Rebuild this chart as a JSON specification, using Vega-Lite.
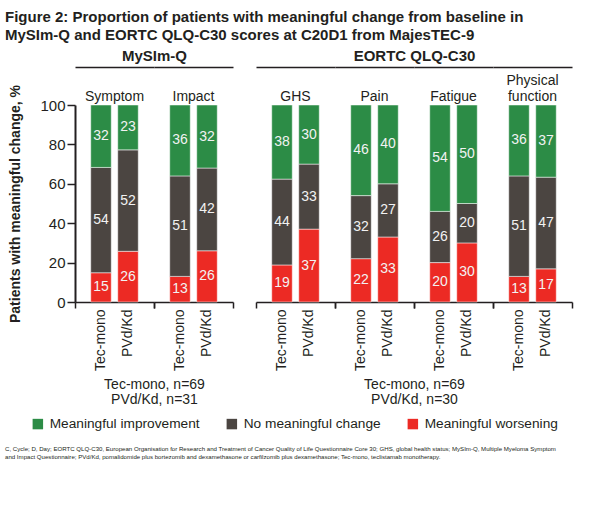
{
  "$schema": "https://vega.github.io/schema/vega-lite/v6.json",
  "padding": {"left": 5, "top": 10, "right": 5, "bottom": 5},
  "background": "white",
  "data": {
    "values": [
      {"group": "MySIm-Q", "measure": "Symptom", "treatment": "Tec-mono", "response": "Meaningful worsening", "pct": 15},
      {"group": "MySIm-Q", "measure": "Symptom", "treatment": "Tec-mono", "response": "No meaningful change", "pct": 54},
      {"group": "MySIm-Q", "measure": "Symptom", "treatment": "Tec-mono", "response": "Meaningful improvement", "pct": 32},
      {"group": "MySIm-Q", "measure": "Symptom", "treatment": "PVd/Kd", "response": "Meaningful worsening", "pct": 26},
      {"group": "MySIm-Q", "measure": "Symptom", "treatment": "PVd/Kd", "response": "No meaningful change", "pct": 52},
      {"group": "MySIm-Q", "measure": "Symptom", "treatment": "PVd/Kd", "response": "Meaningful improvement", "pct": 23},
      {"group": "MySIm-Q", "measure": "Impact", "treatment": "Tec-mono", "response": "Meaningful worsening", "pct": 13},
      {"group": "MySIm-Q", "measure": "Impact", "treatment": "Tec-mono", "response": "No meaningful change", "pct": 51},
      {"group": "MySIm-Q", "measure": "Impact", "treatment": "Tec-mono", "response": "Meaningful improvement", "pct": 36},
      {"group": "MySIm-Q", "measure": "Impact", "treatment": "PVd/Kd", "response": "Meaningful worsening", "pct": 26},
      {"group": "MySIm-Q", "measure": "Impact", "treatment": "PVd/Kd", "response": "No meaningful change", "pct": 42},
      {"group": "MySIm-Q", "measure": "Impact", "treatment": "PVd/Kd", "response": "Meaningful improvement", "pct": 32},
      {"group": "EORTC QLQ-C30", "measure": "GHS", "treatment": "Tec-mono", "response": "Meaningful worsening", "pct": 19},
      {"group": "EORTC QLQ-C30", "measure": "GHS", "treatment": "Tec-mono", "response": "No meaningful change", "pct": 44},
      {"group": "EORTC QLQ-C30", "measure": "GHS", "treatment": "Tec-mono", "response": "Meaningful improvement", "pct": 38},
      {"group": "EORTC QLQ-C30", "measure": "GHS", "treatment": "PVd/Kd", "response": "Meaningful worsening", "pct": 37},
      {"group": "EORTC QLQ-C30", "measure": "GHS", "treatment": "PVd/Kd", "response": "No meaningful change", "pct": 33},
      {"group": "EORTC QLQ-C30", "measure": "GHS", "treatment": "PVd/Kd", "response": "Meaningful improvement", "pct": 30},
      {"group": "EORTC QLQ-C30", "measure": "Pain", "treatment": "Tec-mono", "response": "Meaningful worsening", "pct": 22},
      {"group": "EORTC QLQ-C30", "measure": "Pain", "treatment": "Tec-mono", "response": "No meaningful change", "pct": 32},
      {"group": "EORTC QLQ-C30", "measure": "Pain", "treatment": "Tec-mono", "response": "Meaningful improvement", "pct": 46},
      {"group": "EORTC QLQ-C30", "measure": "Pain", "treatment": "PVd/Kd", "response": "Meaningful worsening", "pct": 33},
      {"group": "EORTC QLQ-C30", "measure": "Pain", "treatment": "PVd/Kd", "response": "No meaningful change", "pct": 27},
      {"group": "EORTC QLQ-C30", "measure": "Pain", "treatment": "PVd/Kd", "response": "Meaningful improvement", "pct": 40},
      {"group": "EORTC QLQ-C30", "measure": "Fatigue", "treatment": "Tec-mono", "response": "Meaningful worsening", "pct": 20},
      {"group": "EORTC QLQ-C30", "measure": "Fatigue", "treatment": "Tec-mono", "response": "No meaningful change", "pct": 26},
      {"group": "EORTC QLQ-C30", "measure": "Fatigue", "treatment": "Tec-mono", "response": "Meaningful improvement", "pct": 54},
      {"group": "EORTC QLQ-C30", "measure": "Fatigue", "treatment": "PVd/Kd", "response": "Meaningful worsening", "pct": 30},
      {"group": "EORTC QLQ-C30", "measure": "Fatigue", "treatment": "PVd/Kd", "response": "No meaningful change", "pct": 20},
      {"group": "EORTC QLQ-C30", "measure": "Fatigue", "treatment": "PVd/Kd", "response": "Meaningful improvement", "pct": 50},
      {"group": "EORTC QLQ-C30", "measure": "Physical function", "treatment": "Tec-mono", "response": "Meaningful worsening", "pct": 13},
      {"group": "EORTC QLQ-C30", "measure": "Physical function", "treatment": "Tec-mono", "response": "No meaningful change", "pct": 51},
      {"group": "EORTC QLQ-C30", "measure": "Physical function", "treatment": "Tec-mono", "response": "Meaningful improvement", "pct": 36},
      {"group": "EORTC QLQ-C30", "measure": "Physical function", "treatment": "PVd/Kd", "response": "Meaningful worsening", "pct": 17},
      {"group": "EORTC QLQ-C30", "measure": "Physical function", "treatment": "PVd/Kd", "response": "No meaningful change", "pct": 47},
      {"group": "EORTC QLQ-C30", "measure": "Physical function", "treatment": "PVd/Kd", "response": "Meaningful improvement", "pct": 37}
    ]
  },
  "title": {
    "text": [
      "Figure 2: Proportion of patients with meaningful change from baseline in",
      "MySIm-Q and EORTC QLQ-C30 scores at C20D1 from MajesTEC-9"
    ],
    "anchor": "start",
    "frame": "bounds",
    "fontSize": 15,
    "fontWeight": "bold",
    "lineHeight": 18,
    "color": "#231f20",
    "offset": 5
  },
  "spacing": -11,
  "resolve": {"legend": {"color": "independent"}},
  "vconcat": [
    {
      "spacing": 0,
      "bounds": "flush",
      "resolve": {"scale": {"color": "shared"}, "legend": {"color": "shared"}},
      "hconcat": [
        {
          "data": {"values": []},
          "mark": "point",
          "width": 70, "height": 197,
          "view": {"fill": "#ffffff", "stroke": null}
        },
        {
          "width": 79, "height": 197,
          "transform": [
            {"filter": "datum.measure == 'Symptom'"},
            {"calculate": "indexof(['Meaningful worsening', 'No meaningful change', 'Meaningful improvement'], datum.response)", "as": "rank"}
          ],
          "layer": [
            {
              "layer": [
                {
                  "mark": {"type": "bar", "stroke": "#ffffff", "strokeWidth": 0.5},
                  "encoding": {
                    "x": {"field": "treatment", "type": "nominal", "sort": ["Tec-mono", "PVd/Kd"], "scale": {"paddingInner": 0.24, "paddingOuter": 0.583}, "axis": {"orient": "bottom", "title": null, "domain": false, "ticks": false, "labelAngle": -90, "labelFontSize": 14, "labelColor": "#231f20", "labelPadding": 7}},
                    "y": {
                      "field": "pct", "type": "quantitative", "stack": "normalize", "scale": {"domain": [0, 1], "nice": false},
                      "axis": {"orient": "left", "values": [0, 0.2, 0.4, 0.6, 0.8, 1], "labelExpr": "format(datum.value * 100, 'd')", "labelOverlap": false, "labelFlush": false, "title": "Patients with meaningful change, %", "titleFontSize": 14, "titleFontWeight": "bold", "titleColor": "#231f20", "titlePadding": 17, "labelFontSize": 15, "labelColor": "#231f20", "labelPadding": 2, "tickSize": 8, "tickWidth": 1.5, "tickColor": "#231f20", "domainColor": "#231f20", "domainWidth": 2, "grid": false}
                    },
                    "color": {"field": "response", "type": "nominal", "scale": {"domain": ["Meaningful improvement", "No meaningful change", "Meaningful worsening"], "range": ["#2c8c46", "#4b4541", "#ec2a24"]}, "legend": {"orient": "bottom", "direction": "horizontal", "title": null, "symbolType": "square", "symbolSize": 110, "symbolStrokeWidth": 0, "labelFontSize": 13.7, "labelColor": "#231f20", "columnPadding": 25, "labelOffset": 5, "padding": 26, "offset": -16}},
                    "order": {"field": "rank", "type": "quantitative"}
                  }
                },
                {
                  "mark": {"type": "text", "color": "#f2f2f2", "fontSize": 14, "baseline": "middle"},
                  "encoding": {
                    "x": {"field": "treatment", "type": "nominal", "sort": ["Tec-mono", "PVd/Kd"]},
                    "y": {
                      "field": "pct", "type": "quantitative", "stack": "normalize", "bandPosition": 0.5,
                      "axis": {"orient": "left", "values": [0, 0.2, 0.4, 0.6, 0.8, 1], "labelExpr": "format(datum.value * 100, 'd')", "labelOverlap": false, "labelFlush": false, "title": "Patients with meaningful change, %", "titleFontSize": 14, "titleFontWeight": "bold", "titleColor": "#231f20", "titlePadding": 17, "labelFontSize": 15, "labelColor": "#231f20", "labelPadding": 2, "tickSize": 8, "tickWidth": 1.5, "tickColor": "#231f20", "domainColor": "#231f20", "domainWidth": 2, "grid": false}
                    },
                    "text": {"field": "pct", "type": "quantitative"},
                    "order": {"field": "rank", "type": "quantitative"}
                  }
                }
              ]
            },
            {
              "transform": [{"filter": "datum.rank == 0 && datum.treatment == 'Tec-mono'"}],
              "mark": {"type": "rule", "strokeOpacity": 0},
              "encoding": {"x": {"datum": 0, "type": "quantitative", "scale": {"domain": [0, 1], "nice": false}, "axis": {"orient": "bottom", "values": [0, 1], "labels": false, "grid": false, "domainColor": "#231f20", "domainWidth": 1.5, "tickSize": 6, "tickColor": "#231f20", "tickWidth": 1.5, "title": ["Tec-mono, n=69", "PVd/Kd, n=31"], "titleAnchor": "end", "titleAlign": "center", "titleBaseline": "top", "titlePadding": 69, "titleFontSize": 14, "titleFontWeight": "normal", "titleColor": "#231f20", "titleLineHeight": 15}}}
            },
            {
              "transform": [{"filter": "datum.rank == 0 && datum.treatment == 'Tec-mono'"}],
              "mark": {"type": "text", "baseline": "bottom", "dy": -1, "fontSize": 14, "color": "#231f20", "lineBreak": " ", "lineHeight": 16},
              "encoding": {
                "x": {"datum": 0.5, "type": "quantitative", "scale": {"domain": [0, 1], "nice": false}, "axis": {"orient": "top", "offset": 38, "labels": false, "ticks": false, "grid": false, "domainColor": "#231f20", "domainWidth": 1.5, "title": "MySIm-Q", "titleAnchor": "end", "titleAlign": "center", "titleFontSize": 15, "titleFontWeight": "bold", "titleColor": "#231f20", "titlePadding": 4}},
                "y": {
                  "datum": 1, "type": "quantitative",
                  "axis": {"orient": "left", "values": [0, 0.2, 0.4, 0.6, 0.8, 1], "labelExpr": "format(datum.value * 100, 'd')", "labelOverlap": false, "labelFlush": false, "title": "Patients with meaningful change, %", "titleFontSize": 14, "titleFontWeight": "bold", "titleColor": "#231f20", "titlePadding": 17, "labelFontSize": 15, "labelColor": "#231f20", "labelPadding": 2, "tickSize": 8, "tickWidth": 1.5, "tickColor": "#231f20", "domainColor": "#231f20", "domainWidth": 2, "grid": false}
                },
                "text": {"field": "measure"}
              }
            }
          ],
          "resolve": {"scale": {"x": "independent"}, "axis": {"x": "independent"}}
        },
        {
          "width": 79, "height": 197,
          "transform": [
            {"filter": "datum.measure == 'Impact'"},
            {"calculate": "indexof(['Meaningful worsening', 'No meaningful change', 'Meaningful improvement'], datum.response)", "as": "rank"}
          ],
          "layer": [
            {
              "layer": [
                {
                  "mark": {"type": "bar", "stroke": "#ffffff", "strokeWidth": 0.5},
                  "encoding": {
                    "x": {"field": "treatment", "type": "nominal", "sort": ["Tec-mono", "PVd/Kd"], "scale": {"paddingInner": 0.24, "paddingOuter": 0.583}, "axis": {"orient": "bottom", "title": null, "domain": false, "ticks": false, "labelAngle": -90, "labelFontSize": 14, "labelColor": "#231f20", "labelPadding": 7}},
                    "y": {"field": "pct", "type": "quantitative", "stack": "normalize", "scale": {"domain": [0, 1], "nice": false}, "axis": null},
                    "color": {"field": "response", "type": "nominal", "scale": {"domain": ["Meaningful improvement", "No meaningful change", "Meaningful worsening"], "range": ["#2c8c46", "#4b4541", "#ec2a24"]}, "legend": {"orient": "bottom", "direction": "horizontal", "title": null, "symbolType": "square", "symbolSize": 110, "symbolStrokeWidth": 0, "labelFontSize": 13.7, "labelColor": "#231f20", "columnPadding": 25, "labelOffset": 5, "padding": 26, "offset": -16}},
                    "order": {"field": "rank", "type": "quantitative"}
                  }
                },
                {
                  "mark": {"type": "text", "color": "#f2f2f2", "fontSize": 14, "baseline": "middle"},
                  "encoding": {
                    "x": {"field": "treatment", "type": "nominal", "sort": ["Tec-mono", "PVd/Kd"]},
                    "y": {"field": "pct", "type": "quantitative", "stack": "normalize", "bandPosition": 0.5, "axis": null},
                    "text": {"field": "pct", "type": "quantitative"},
                    "order": {"field": "rank", "type": "quantitative"}
                  }
                }
              ]
            },
            {
              "transform": [{"filter": "datum.rank == 0 && datum.treatment == 'Tec-mono'"}],
              "mark": {"type": "rule", "strokeOpacity": 0},
              "encoding": {"x": {"datum": 0, "type": "quantitative", "scale": {"domain": [0, 1], "nice": false}, "axis": {"orient": "bottom", "values": [0, 1], "labels": false, "grid": false, "domainColor": "#231f20", "domainWidth": 1.5, "tickSize": 6, "tickColor": "#231f20", "tickWidth": 1.5, "title": null}}}
            },
            {
              "transform": [{"filter": "datum.rank == 0 && datum.treatment == 'Tec-mono'"}],
              "mark": {"type": "text", "baseline": "bottom", "dy": -1, "fontSize": 14, "color": "#231f20", "lineBreak": " ", "lineHeight": 16},
              "encoding": {
                "x": {"datum": 0.5, "type": "quantitative", "scale": {"domain": [0, 1], "nice": false}, "axis": {"orient": "top", "offset": 38, "labels": false, "ticks": false, "grid": false, "domainColor": "#231f20", "domainWidth": 1.5, "title": null}},
                "y": {"datum": 1, "type": "quantitative", "axis": null},
                "text": {"field": "measure"}
              }
            }
          ],
          "resolve": {"scale": {"x": "independent"}, "axis": {"x": "independent"}}
        },
        {
          "data": {"values": []},
          "mark": "point",
          "width": 23, "height": 197
        },
        {
          "width": 79, "height": 197,
          "transform": [
            {"filter": "datum.measure == 'GHS'"},
            {"calculate": "indexof(['Meaningful worsening', 'No meaningful change', 'Meaningful improvement'], datum.response)", "as": "rank"}
          ],
          "layer": [
            {
              "layer": [
                {
                  "mark": {"type": "bar", "stroke": "#ffffff", "strokeWidth": 0.5},
                  "encoding": {
                    "x": {"field": "treatment", "type": "nominal", "sort": ["Tec-mono", "PVd/Kd"], "scale": {"paddingInner": 0.24, "paddingOuter": 0.583}, "axis": {"orient": "bottom", "title": null, "domain": false, "ticks": false, "labelAngle": -90, "labelFontSize": 14, "labelColor": "#231f20", "labelPadding": 7}},
                    "y": {"field": "pct", "type": "quantitative", "stack": "normalize", "scale": {"domain": [0, 1], "nice": false}, "axis": null},
                    "color": {"field": "response", "type": "nominal", "scale": {"domain": ["Meaningful improvement", "No meaningful change", "Meaningful worsening"], "range": ["#2c8c46", "#4b4541", "#ec2a24"]}, "legend": {"orient": "bottom", "direction": "horizontal", "title": null, "symbolType": "square", "symbolSize": 110, "symbolStrokeWidth": 0, "labelFontSize": 13.7, "labelColor": "#231f20", "columnPadding": 25, "labelOffset": 5, "padding": 26, "offset": -16}},
                    "order": {"field": "rank", "type": "quantitative"}
                  }
                },
                {
                  "mark": {"type": "text", "color": "#f2f2f2", "fontSize": 14, "baseline": "middle"},
                  "encoding": {
                    "x": {"field": "treatment", "type": "nominal", "sort": ["Tec-mono", "PVd/Kd"]},
                    "y": {"field": "pct", "type": "quantitative", "stack": "normalize", "bandPosition": 0.5, "axis": null},
                    "text": {"field": "pct", "type": "quantitative"},
                    "order": {"field": "rank", "type": "quantitative"}
                  }
                }
              ]
            },
            {
              "transform": [{"filter": "datum.rank == 0 && datum.treatment == 'Tec-mono'"}],
              "mark": {"type": "rule", "strokeOpacity": 0},
              "encoding": {"x": {"datum": 0, "type": "quantitative", "scale": {"domain": [0, 1], "nice": false}, "axis": {"orient": "bottom", "values": [0, 1], "labels": false, "grid": false, "domainColor": "#231f20", "domainWidth": 1.5, "tickSize": 6, "tickColor": "#231f20", "tickWidth": 1.5, "title": null}}}
            },
            {
              "transform": [{"filter": "datum.rank == 0 && datum.treatment == 'Tec-mono'"}],
              "mark": {"type": "text", "baseline": "bottom", "dy": -1, "fontSize": 14, "color": "#231f20", "lineBreak": " ", "lineHeight": 16},
              "encoding": {
                "x": {"datum": 0.5, "type": "quantitative", "scale": {"domain": [0, 1], "nice": false}, "axis": {"orient": "top", "offset": 38, "labels": false, "ticks": false, "grid": false, "domainColor": "#231f20", "domainWidth": 1.5, "title": null}},
                "y": {"datum": 1, "type": "quantitative", "axis": null},
                "text": {"field": "measure"}
              }
            }
          ],
          "resolve": {"scale": {"x": "independent"}, "axis": {"x": "independent"}}
        },
        {
          "width": 79, "height": 197,
          "transform": [
            {"filter": "datum.measure == 'Pain'"},
            {"calculate": "indexof(['Meaningful worsening', 'No meaningful change', 'Meaningful improvement'], datum.response)", "as": "rank"}
          ],
          "layer": [
            {
              "layer": [
                {
                  "mark": {"type": "bar", "stroke": "#ffffff", "strokeWidth": 0.5},
                  "encoding": {
                    "x": {"field": "treatment", "type": "nominal", "sort": ["Tec-mono", "PVd/Kd"], "scale": {"paddingInner": 0.24, "paddingOuter": 0.583}, "axis": {"orient": "bottom", "title": null, "domain": false, "ticks": false, "labelAngle": -90, "labelFontSize": 14, "labelColor": "#231f20", "labelPadding": 7}},
                    "y": {"field": "pct", "type": "quantitative", "stack": "normalize", "scale": {"domain": [0, 1], "nice": false}, "axis": null},
                    "color": {"field": "response", "type": "nominal", "scale": {"domain": ["Meaningful improvement", "No meaningful change", "Meaningful worsening"], "range": ["#2c8c46", "#4b4541", "#ec2a24"]}, "legend": {"orient": "bottom", "direction": "horizontal", "title": null, "symbolType": "square", "symbolSize": 110, "symbolStrokeWidth": 0, "labelFontSize": 13.7, "labelColor": "#231f20", "columnPadding": 25, "labelOffset": 5, "padding": 26, "offset": -16}},
                    "order": {"field": "rank", "type": "quantitative"}
                  }
                },
                {
                  "mark": {"type": "text", "color": "#f2f2f2", "fontSize": 14, "baseline": "middle"},
                  "encoding": {
                    "x": {"field": "treatment", "type": "nominal", "sort": ["Tec-mono", "PVd/Kd"]},
                    "y": {"field": "pct", "type": "quantitative", "stack": "normalize", "bandPosition": 0.5, "axis": null},
                    "text": {"field": "pct", "type": "quantitative"},
                    "order": {"field": "rank", "type": "quantitative"}
                  }
                }
              ]
            },
            {
              "transform": [{"filter": "datum.rank == 0 && datum.treatment == 'Tec-mono'"}],
              "mark": {"type": "rule", "strokeOpacity": 0},
              "encoding": {"x": {"datum": 0, "type": "quantitative", "scale": {"domain": [0, 1], "nice": false}, "axis": {"orient": "bottom", "values": [0, 1], "labels": false, "grid": false, "domainColor": "#231f20", "domainWidth": 1.5, "tickSize": 6, "tickColor": "#231f20", "tickWidth": 1.5, "title": ["Tec-mono, n=69", "PVd/Kd, n=30"], "titleAnchor": "end", "titleAlign": "center", "titleBaseline": "top", "titlePadding": 69, "titleFontSize": 14, "titleFontWeight": "normal", "titleColor": "#231f20", "titleLineHeight": 15}}}
            },
            {
              "transform": [{"filter": "datum.rank == 0 && datum.treatment == 'Tec-mono'"}],
              "mark": {"type": "text", "baseline": "bottom", "dy": -1, "fontSize": 14, "color": "#231f20", "lineBreak": " ", "lineHeight": 16},
              "encoding": {
                "x": {"datum": 0.5, "type": "quantitative", "scale": {"domain": [0, 1], "nice": false}, "axis": {"orient": "top", "offset": 38, "labels": false, "ticks": false, "grid": false, "domainColor": "#231f20", "domainWidth": 1.5, "title": "EORTC QLQ-C30", "titleAnchor": "end", "titleAlign": "center", "titleFontSize": 15, "titleFontWeight": "bold", "titleColor": "#231f20", "titlePadding": 4}},
                "y": {"datum": 1, "type": "quantitative", "axis": null},
                "text": {"field": "measure"}
              }
            }
          ],
          "resolve": {"scale": {"x": "independent"}, "axis": {"x": "independent"}}
        },
        {
          "width": 79, "height": 197,
          "transform": [
            {"filter": "datum.measure == 'Fatigue'"},
            {"calculate": "indexof(['Meaningful worsening', 'No meaningful change', 'Meaningful improvement'], datum.response)", "as": "rank"}
          ],
          "layer": [
            {
              "layer": [
                {
                  "mark": {"type": "bar", "stroke": "#ffffff", "strokeWidth": 0.5},
                  "encoding": {
                    "x": {"field": "treatment", "type": "nominal", "sort": ["Tec-mono", "PVd/Kd"], "scale": {"paddingInner": 0.24, "paddingOuter": 0.583}, "axis": {"orient": "bottom", "title": null, "domain": false, "ticks": false, "labelAngle": -90, "labelFontSize": 14, "labelColor": "#231f20", "labelPadding": 7}},
                    "y": {"field": "pct", "type": "quantitative", "stack": "normalize", "scale": {"domain": [0, 1], "nice": false}, "axis": null},
                    "color": {"field": "response", "type": "nominal", "scale": {"domain": ["Meaningful improvement", "No meaningful change", "Meaningful worsening"], "range": ["#2c8c46", "#4b4541", "#ec2a24"]}, "legend": {"orient": "bottom", "direction": "horizontal", "title": null, "symbolType": "square", "symbolSize": 110, "symbolStrokeWidth": 0, "labelFontSize": 13.7, "labelColor": "#231f20", "columnPadding": 25, "labelOffset": 5, "padding": 26, "offset": -16}},
                    "order": {"field": "rank", "type": "quantitative"}
                  }
                },
                {
                  "mark": {"type": "text", "color": "#f2f2f2", "fontSize": 14, "baseline": "middle"},
                  "encoding": {
                    "x": {"field": "treatment", "type": "nominal", "sort": ["Tec-mono", "PVd/Kd"]},
                    "y": {"field": "pct", "type": "quantitative", "stack": "normalize", "bandPosition": 0.5, "axis": null},
                    "text": {"field": "pct", "type": "quantitative"},
                    "order": {"field": "rank", "type": "quantitative"}
                  }
                }
              ]
            },
            {
              "transform": [{"filter": "datum.rank == 0 && datum.treatment == 'Tec-mono'"}],
              "mark": {"type": "rule", "strokeOpacity": 0},
              "encoding": {"x": {"datum": 0, "type": "quantitative", "scale": {"domain": [0, 1], "nice": false}, "axis": {"orient": "bottom", "values": [0, 1], "labels": false, "grid": false, "domainColor": "#231f20", "domainWidth": 1.5, "tickSize": 6, "tickColor": "#231f20", "tickWidth": 1.5, "title": null}}}
            },
            {
              "transform": [{"filter": "datum.rank == 0 && datum.treatment == 'Tec-mono'"}],
              "mark": {"type": "text", "baseline": "bottom", "dy": -1, "fontSize": 14, "color": "#231f20", "lineBreak": " ", "lineHeight": 16},
              "encoding": {
                "x": {"datum": 0.5, "type": "quantitative", "scale": {"domain": [0, 1], "nice": false}, "axis": {"orient": "top", "offset": 38, "labels": false, "ticks": false, "grid": false, "domainColor": "#231f20", "domainWidth": 1.5, "title": null}},
                "y": {"datum": 1, "type": "quantitative", "axis": null},
                "text": {"field": "measure"}
              }
            }
          ],
          "resolve": {"scale": {"x": "independent"}, "axis": {"x": "independent"}}
        },
        {
          "width": 79, "height": 197,
          "transform": [
            {"filter": "datum.measure == 'Physical function'"},
            {"calculate": "indexof(['Meaningful worsening', 'No meaningful change', 'Meaningful improvement'], datum.response)", "as": "rank"}
          ],
          "layer": [
            {
              "layer": [
                {
                  "mark": {"type": "bar", "stroke": "#ffffff", "strokeWidth": 0.5},
                  "encoding": {
                    "x": {"field": "treatment", "type": "nominal", "sort": ["Tec-mono", "PVd/Kd"], "scale": {"paddingInner": 0.24, "paddingOuter": 0.583}, "axis": {"orient": "bottom", "title": null, "domain": false, "ticks": false, "labelAngle": -90, "labelFontSize": 14, "labelColor": "#231f20", "labelPadding": 7}},
                    "y": {"field": "pct", "type": "quantitative", "stack": "normalize", "scale": {"domain": [0, 1], "nice": false}, "axis": null},
                    "color": {"field": "response", "type": "nominal", "scale": {"domain": ["Meaningful improvement", "No meaningful change", "Meaningful worsening"], "range": ["#2c8c46", "#4b4541", "#ec2a24"]}, "legend": {"orient": "bottom", "direction": "horizontal", "title": null, "symbolType": "square", "symbolSize": 110, "symbolStrokeWidth": 0, "labelFontSize": 13.7, "labelColor": "#231f20", "columnPadding": 25, "labelOffset": 5, "padding": 26, "offset": -16}},
                    "order": {"field": "rank", "type": "quantitative"}
                  }
                },
                {
                  "mark": {"type": "text", "color": "#f2f2f2", "fontSize": 14, "baseline": "middle"},
                  "encoding": {
                    "x": {"field": "treatment", "type": "nominal", "sort": ["Tec-mono", "PVd/Kd"]},
                    "y": {"field": "pct", "type": "quantitative", "stack": "normalize", "bandPosition": 0.5, "axis": null},
                    "text": {"field": "pct", "type": "quantitative"},
                    "order": {"field": "rank", "type": "quantitative"}
                  }
                }
              ]
            },
            {
              "transform": [{"filter": "datum.rank == 0 && datum.treatment == 'Tec-mono'"}],
              "mark": {"type": "rule", "strokeOpacity": 0},
              "encoding": {"x": {"datum": 0, "type": "quantitative", "scale": {"domain": [0, 1], "nice": false}, "axis": {"orient": "bottom", "values": [0, 1], "labels": false, "grid": false, "domainColor": "#231f20", "domainWidth": 1.5, "tickSize": 6, "tickColor": "#231f20", "tickWidth": 1.5, "title": null}}}
            },
            {
              "transform": [{"filter": "datum.rank == 0 && datum.treatment == 'Tec-mono'"}],
              "mark": {"type": "text", "baseline": "bottom", "dy": -17, "fontSize": 14, "color": "#231f20", "lineBreak": " ", "lineHeight": 16},
              "encoding": {
                "x": {"datum": 0.5, "type": "quantitative", "scale": {"domain": [0, 1], "nice": false}, "axis": {"orient": "top", "offset": 38, "labels": false, "ticks": false, "grid": false, "domainColor": "#231f20", "domainWidth": 1.5, "title": null}},
                "y": {"datum": 1, "type": "quantitative", "axis": null},
                "text": {"field": "measure"}
              }
            }
          ],
          "resolve": {"scale": {"x": "independent"}, "axis": {"x": "independent"}}
        }
      ]
    },
    {
      "data": {"values": []},
      "mark": "point",
      "width": 580,
      "height": 1,
      "title": {
        "text": [
          "C, Cycle; D, Day; EORTC QLQ-C30, European Organisation for Research and Treatment of Cancer Quality of Life Questionnaire Core 30; GHS, global health status; MySIm-Q, Multiple Myeloma Symptom",
          "and Impact Questionnaire; PVd/Kd, pomalidomide plus bortezomib and dexamethasone or carfilzomib plus dexamethasone; Tec-mono, teclistamab monotherapy."
        ],
        "anchor": "start",
        "frame": "group",
        "fontSize": 6.1,
        "fontWeight": "normal",
        "lineHeight": 7.5,
        "color": "#231f20",
        "offset": 0
      }
    }
  ],
  "config": {
    "font": "Liberation Sans",
    "view": {"stroke": null}
  }
}
